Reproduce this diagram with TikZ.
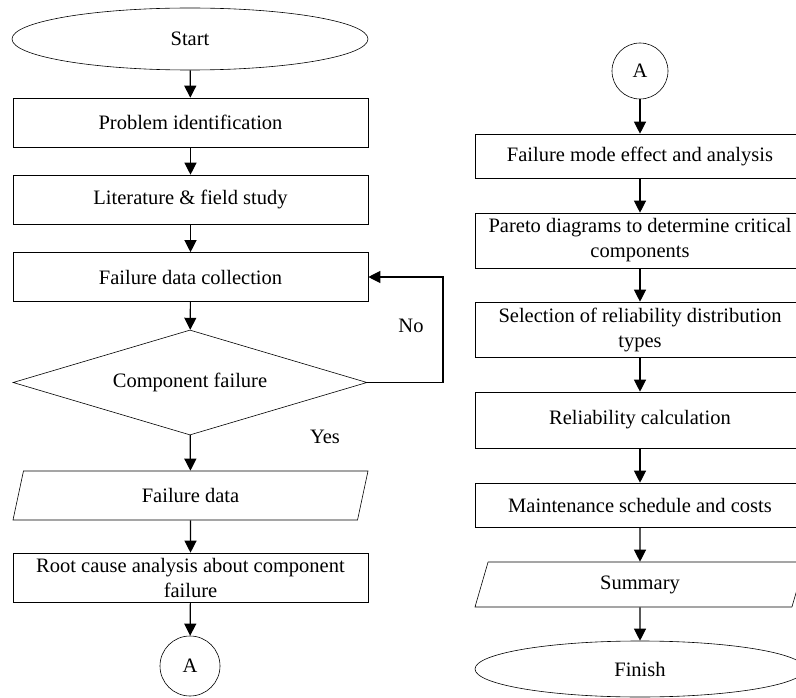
\documentclass[tikz,border=0pt]{standalone}
\usepackage{fontspec}
\setmainfont{Liberation Serif}
\usetikzlibrary{shapes.geometric,arrows.meta}

\begin{document}
\begin{tikzpicture}[x=1pt,y=-1pt,font=\fontsize{20.5}{25}\selectfont,line width=0.6pt,
	lbox/.style={rectangle, draw, minimum width=355pt, minimum height=49pt, text width=340pt, align=flush center, inner sep=2pt},
	rbox/.style={rectangle, draw, minimum width=330pt, text width=312pt, align=flush center, inner sep=2pt},
	term/.style={ellipse, draw, inner sep=0pt},
	conn/.style={circle, draw, minimum size=58pt, inner sep=0pt},
	io/.style={trapezium, draw, trapezium left angle=54, trapezium right angle=126, trapezium stretches body, inner sep=0pt},
	flow/.style={-{Triangle[length=12pt,width=12pt]}, line width=1.2pt}]
	\useasboundingbox (0,0) rectangle (796,698);
	% left column
	\node (start) at (190, 39)	[term, minimum width=356pt, minimum height=62pt]	{Start};
	\node (prob) at (190.5, 122.5)	[lbox]	{Problem identification};
	\node (lit) at (190.5, 199.5)	[lbox]	{Literature \& field study};
	\node (fdc) at (190.5, 277)	[lbox]	{Failure data collection};
	\node (dia) at (190, 382.5)	[diamond, draw, inner sep=0pt, shape aspect=3.37, minimum width=354pt, minimum height=105pt]	{Component failure};
	\node (fdata) at (190.5, 495.5)	[io, minimum width=355pt, minimum height=49pt]	{Failure data};
	\node (root) at (190.5, 577.5)	[lbox]	{Root cause analysis about component failure};
	\node (A1) at (190, 666)	[conn, minimum size=60pt]	{A};
	\node (no) at (411, 326)	{No};
	\node (yes) at (325, 437)	{Yes};
	\coordinate (turn) at (443, 382.5);
	% right column
	\node (A2) at (640, 71)	[conn, minimum size=56pt]	{A};
	\node (fmea) at (640, 156)	[rbox, minimum height=44pt]	{Failure mode effect and analysis};
	\node (pareto) at (640, 240.5)	[rbox, minimum height=55pt]	{Pareto diagrams to determine critical components};
	\node (sel) at (640, 329.5)	[rbox, minimum height=55pt]	{Selection of reliability distribution types};
	\node (rel) at (640, 420)	[rbox, minimum height=56pt]	{Reliability calculation};
	\node (maint) at (640, 505)	[rbox, minimum height=44pt]	{Maintenance schedule and costs};
	\node (summ) at (640, 584.5)	[io, minimum width=330pt, minimum height=45pt]	{Summary};
	\node (finish) at (640, 669)	[term, minimum width=330pt, minimum height=56pt]	{Finish};
	\draw[flow] (start) -- (prob);
	\draw[flow] (prob) -- (lit);
	\draw[flow] (lit) -- (fdc);
	\draw[flow] (fdc) -- (dia);
	\draw[flow] (dia) -- (fdata);
	\draw[flow] (fdata) -- (root);
	\draw[flow] (root) -- (A1);
	\draw[flow] (dia.east) -- (turn) |- (fdc.east);
	\draw[flow] (A2) -- (fmea);
	\draw[flow] (fmea) -- (pareto);
	\draw[flow] (pareto) -- (sel);
	\draw[flow] (sel) -- (rel);
	\draw[flow] (rel) -- (maint);
	\draw[flow] (maint) -- (summ);
	\draw[flow] (summ) -- (finish);
\end{tikzpicture}
\end{document}
